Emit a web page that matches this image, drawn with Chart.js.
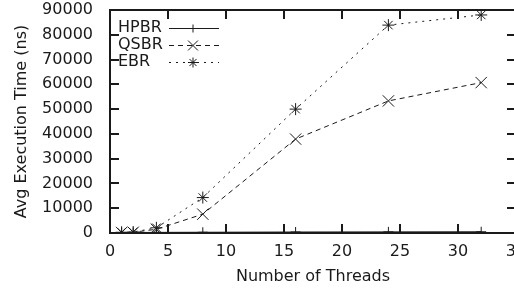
<!DOCTYPE html>
<html>
<head>
<meta charset="utf-8">
<script src="https://cdn.jsdelivr.net/npm/chart.js@4"></script>
<style>
  html, body { margin: 0; padding: 0; background: #fff; overflow: hidden; }
  #wrap { width: 530px; height: 290px; }
</style>
</head>
<body>
<div id="wrap"><canvas id="threads-chart" width="530" height="290"></canvas></div>
<script>
// values
let threads = [1, 2, 4, 8, 16, 24, 32];
let hpbr = [150, 200, 250, 300, 400, 450, 500];
let qsbr = [200, 300, 1500, 7600, 37900, 53300, 60700];
let ebr = [300, 400, 2100, 14300, 50000, 83900, 88000];
let seriesNames = ["HPBR", "QSBR", "EBR"];
let xTicks = [0, 5, 10, 15, 20, 25, 30, 35];
let yTicks = [0, 10000, 20000, 30000, 40000, 50000, 60000, 70000, 80000, 90000];

let ink = "#1a1a1a";
let fontFamily = "'DejaVu Sans', sans-serif";
let fontSize = 16;

function toPoints(values) {
    let pts = [];
    threads.forEach((t, i) => pts.push({x: t, y: values[i]}));
    return pts;
}

// gnuplot style frame: box with inward ticks on all four sides
const framePlugin = {
    id: "gnuframe",
    afterDraw(chart) {
        let c = chart.ctx;
        let a = chart.chartArea;
        let xs = chart.scales.x;
        let ys = chart.scales.y;
        let l = Math.round(a.left), r = Math.round(a.right);
        let t = Math.round(a.top), b = Math.round(a.bottom);
        c.save();
        c.fillStyle = ink;
        // border
        c.fillRect(l - 1, t - 1, r - l + 2, 2);
        c.fillRect(l - 1, b - 1, r - l + 2, 2);
        c.fillRect(l - 1, t - 1, 2, b - t + 2);
        c.fillRect(r - 1, t - 1, 2, b - t + 2);
        // ticks
        xTicks.forEach(v => {
            let px = Math.round(xs.getPixelForValue(v));
            c.fillRect(px - 1, b - 9, 2, 9);
            c.fillRect(px - 1, t, 2, 9);
        });
        yTicks.forEach(v => {
            let py = Math.round(ys.getPixelForValue(v));
            c.fillRect(l, py - 1, 9, 2);
            c.fillRect(r - 9, py - 1, 9, 2);
        });

        // key, text first then the line sample
        c.font = fontSize + "px " + fontFamily;
        c.textAlign = "left";
        c.textBaseline = "middle";
        chart.data.datasets.forEach((ds, i) => {
            let y = 28 + i * 17;
            c.fillStyle = ink;
            c.fillText(ds.label, 118, y);
            c.strokeStyle = ds.borderColor;
            c.lineWidth = ds.borderWidth;
            c.setLineDash(ds.borderDash);
            c.beginPath();
            c.moveTo(169, y + 0.5); c.lineTo(219, y + 0.5);
            c.stroke();
            c.setLineDash([]);
            Chart.helpers.drawPoint(c, {
                pointStyle: ds.pointStyle,
                radius: ds.pointRadius - 1,
                borderWidth: ds.pointBorderWidth,
                rotation: 0
            }, 193, y + 0.5);
        });
        c.restore();
    }
};

const canvasCtx = document.getElementById("threads-chart").getContext("2d");

let myChart = new Chart(canvasCtx, {
    type: "line",
    data: {
        datasets: [{
            label: seriesNames[0],
            data: toPoints(hpbr),
            borderColor: ink,
            backgroundColor: ink,
            borderWidth: 1,
            borderDash: [],
            pointStyle: "cross",
            pointRadius: 5,
            pointBorderWidth: 1
        }, {
            label: seriesNames[1],
            data: toPoints(qsbr),
            borderColor: ink,
            backgroundColor: ink,
            borderWidth: 1,
            borderDash: [5, 4],
            pointStyle: "crossRot",
            pointRadius: 8,
            pointBorderWidth: 1
        }, {
            label: seriesNames[2],
            data: toPoints(ebr),
            borderColor: ink,
            backgroundColor: ink,
            borderWidth: 1,
            borderDash: [2, 5],
            pointStyle: "star",
            pointRadius: 6,
            pointBorderWidth: 1
        }]
    },
    options: {
        responsive: false,
        animation: false,
        layout: {padding: {top: 10, right: 14, left: 8, bottom: 0}},
        plugins: {legend: {display: false}, tooltip: {enabled: false}},
        scales: {
            x: {
                type: "linear",
                min: 0,
                max: 35,
                afterBuildTicks: s => { s.ticks = xTicks.map(v => ({value: v})); },
                afterFit: s => { s.height = 57; s.paddingLeft = 0; s.paddingRight = 0; },
                grid: {display: false},
                border: {display: false},
                ticks: {color: ink, padding: 1, font: {family: fontFamily, size: fontSize}, maxRotation: 0,
                        callback: v => String(v)},
                title: {display: true, text: "Number of Threads", color: ink, padding: {top: 5},
                        font: {family: fontFamily, size: fontSize}}
            },
            y: {
                min: 0,
                max: 90000,
                afterBuildTicks: s => { s.ticks = yTicks.map(v => ({value: v})); },
                afterFit: s => { s.width = 102; s.paddingTop = 0; s.paddingBottom = 0; },
                grid: {display: false},
                border: {display: false},
                ticks: {color: ink, padding: 9, font: {family: fontFamily, size: fontSize},
                        callback: v => String(v)},
                title: {display: true, text: "Avg Execution Time (ns)", color: ink, padding: {bottom: 0},
                        font: {family: fontFamily, size: fontSize}}
            }
        }
    },
    plugins: [framePlugin]
});
</script>
</body>
</html>
